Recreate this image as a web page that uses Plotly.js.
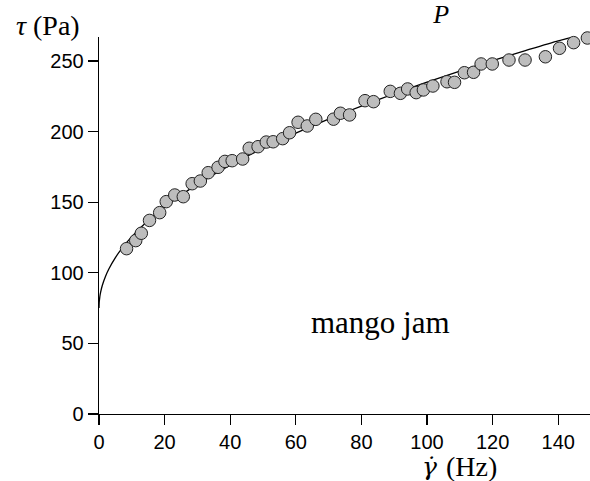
<!DOCTYPE html>
<html>
<head>
<meta charset="utf-8">
<script src="https://cdn.plot.ly/plotly-3.0.1.min.js"></script>
<style>
  html, body { margin: 0; padding: 0; background: #fff; }
  #chart { width: 590px; height: 481px; }
</style>
</head>
<body>
<div id="chart"></div>
<script>
// Measured shear rate (Hz) and shear stress (Pa) for mango jam
const shearRate = [8.4, 11.2, 12.9, 15.4, 18.5, 20.5, 23.1, 25.7, 28.4, 30.9, 33.3, 36.3,
  38.4, 40.6, 43.8, 45.8, 48.5, 51.0, 53.1, 56.0, 58.1, 60.7, 63.5, 66.1, 71.5, 73.6,
  76.4, 81.1, 83.7, 88.8, 91.9, 94.1, 96.7, 98.9, 101.8, 106.1, 108.4, 111.4, 114.2,
  116.5, 119.9, 125.0, 129.9, 136.1, 140.4, 144.7, 148.9];
const shearStress = [117.1, 122.8, 128.0, 137.1, 142.6, 150.4, 155.1, 153.9, 163.1, 165.0,
  170.9, 174.7, 178.9, 179.4, 180.6, 188.2, 189.3, 192.6, 192.8, 195.0, 199.2, 206.6,
  204.0, 208.7, 208.8, 213.0, 211.8, 221.9, 221.2, 228.5, 227.1, 230.2, 227.6, 229.5,
  232.3, 235.3, 234.9, 241.7, 242.0, 247.9, 247.9, 250.7, 250.7, 253.0, 259.0, 263.0, 266.3];

// Fitted flow curve, tabulated
const fitRate = [0, 0.05, 0.1, 0.25, 0.5, 1, 2, 3, 5, 7, 10, 15, 20, 25, 30, 40, 50, 60,
  70, 80, 90, 100, 110, 120, 130, 140, 150];
const fitStress = [75, 78.6, 80.1, 83, 86.3, 91, 97.6, 102.7, 110.8, 117.3, 125.6, 137,
  146.6, 155, 162.6, 176.2, 188.1, 198.9, 208.9, 218.1, 226.8, 235, 242.8, 250.3, 257.4,
  264.3, 270];

const xTicks = [0, 20, 40, 60, 80, 100, 120, 140];
const yTicks = [0, 50, 100, 150, 200, 250];

const serif = '"Liberation Serif", "DejaVu Serif", serif';
const sans = '"Liberation Sans", Arial, sans-serif';

const traces = [
  {
    x: fitRate, y: fitStress,
    type: 'scatter', mode: 'lines',
    line: { color: '#000', width: 1.3, shape: 'spline', smoothing: 0.6 },
    cliponaxis: false, hoverinfo: 'skip', showlegend: false
  },
  {
    x: shearRate, y: shearStress,
    type: 'scatter', mode: 'markers',
    marker: { size: 12.5, color: '#bdbdbd', line: { color: '#222', width: 1 } },
    cliponaxis: false, showlegend: false
  }
];

const axisCommon = {
  showgrid: false, zeroline: false,
  showline: true, linecolor: '#000', linewidth: 1.3,
  ticks: 'outside', ticklen: 10, tickwidth: 1.3, tickcolor: '#000',
  tickfont: { family: sans, size: 20, color: '#000' },
  tickmode: 'array', fixedrange: true
};

// Small helper for free-standing text in paper coordinates
function label(text, x, y, size, family) {
  return {
    text: text, xref: 'paper', yref: 'paper', x: x, y: y,
    showarrow: false, xanchor: 'center', yanchor: 'middle',
    font: { family: family || serif, size: size, color: '#000' }
  };
}

const layout = {
  width: 590, height: 481,
  margin: { l: 99, r: 0, t: 37, b: 67 },
  paper_bgcolor: '#fff', plot_bgcolor: '#fff',
  title: {
    text: '<i>P</i>',
    font: { family: serif, size: 26, color: '#000' },
    x: 0.748, xanchor: 'center', xref: 'container',
    y: 0.972, yanchor: 'middle', yref: 'container'
  },
  xaxis: Object.assign({}, axisCommon, {
    range: [0, 149.7], tickvals: xTicks, ticktext: xTicks.map(String)
  }),
  yaxis: Object.assign({}, axisCommon, {
    range: [0, 267], tickvals: yTicks, ticktext: yTicks.map(String)
  }),
  annotations: [
    // y-axis label
    label('<i>τ</i> (Pa)', -0.104, 1.031, 28),
    // x-axis label: gamma with a combining overdot, then the unit
    label('<i>γ\u0307</i>', 0.674, -0.138, 25, '"DejaVu Serif", serif'),
    label('(Hz)', 0.7587, -0.138, 28),
    {
      text: 'mango jam', xref: 'x', yref: 'y', x: 85.7, y: 65,
      showarrow: false, xanchor: 'center', yanchor: 'middle',
      font: { family: serif, size: 31, color: '#000' }
    }
  ]
};

Plotly.newPlot('chart', traces, layout, { displayModeBar: false, staticPlot: true });
</script>
</body>
</html>
